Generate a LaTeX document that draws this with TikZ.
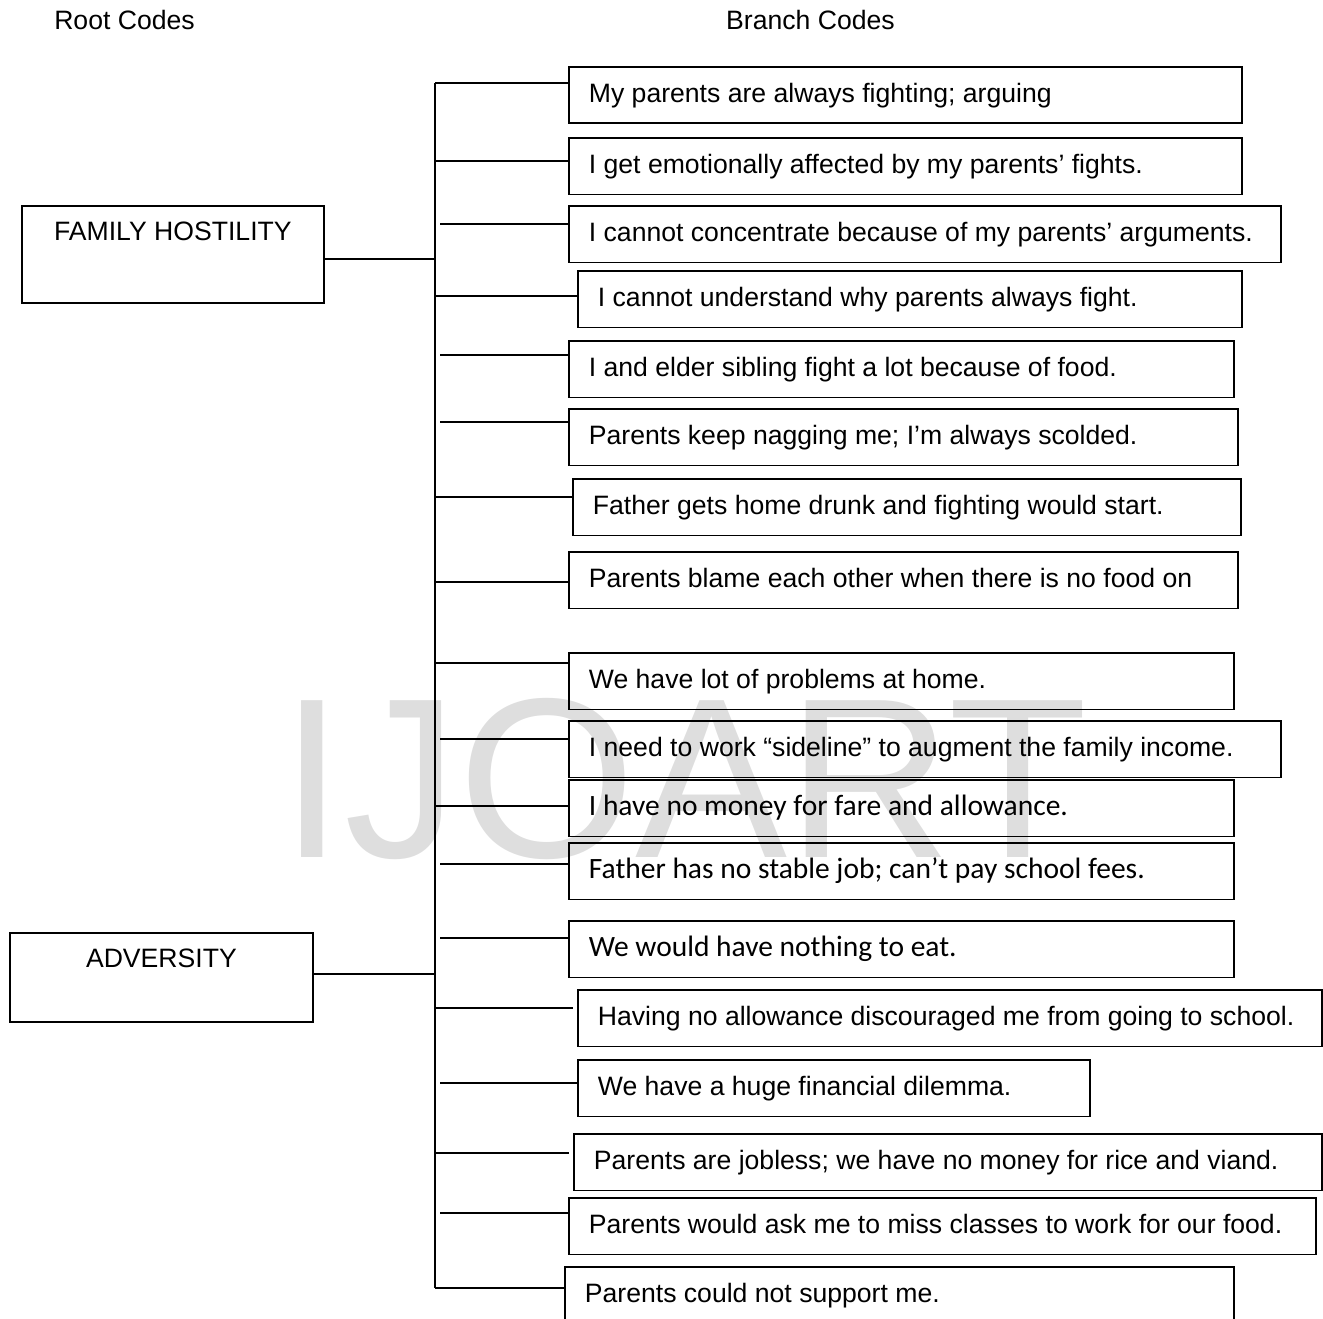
\documentclass[tikz,border=0pt]{standalone}
\usepackage{fontspec}
\setmainfont{Liberation Sans}
\newfontfamily\calibrifont{Carlito}
\newcommand\calsize{\fontsize{29.5pt}{32pt}\selectfont\calibrifont}
\begin{document}
\begin{tikzpicture}[x=1pt,y=-1pt,
  line width=1.8pt,
  txt/.style={font=\fontsize{26.6pt}{30pt}\selectfont},
  rootbox/.style={draw, txt, inner sep=0pt, anchor=north west, text height=35pt},
  bbox/.style={draw, txt, anchor=north west, inner xsep=20pt, inner ysep=0pt, text height=36pt, text depth=20.5pt},
  conn/.style={line width=1.8pt}
]
\useasboundingbox (0,0) rectangle (1323,1319);
\clip (0,0) rectangle (1323,1319);
% watermark
\node[anchor=base west, inner sep=0pt, font=\fontsize{228pt}{228pt}\selectfont, text=black!13] (wm) at (280,857) {IJOART};
% headers
\node[txt, anchor=base, inner sep=0pt] (hroot) at (124.5,30) {Root Codes};
\node[txt, anchor=base, inner sep=0pt] (hbranch) at (810.5,30) {Branch Codes};
% root boxes
\node[rootbox, minimum width=302pt, text depth=62pt] (fh) at (21,205) {FAMILY HOSTILITY};
\node[rootbox, minimum width=303pt, text depth=54pt] (adv) at (9,932) {ADVERSITY};
% branch boxes
\node[bbox] (b1) at (568,66) {\makebox[633pt][l]{My parents are always fighting; arguing}};
\node[bbox] (b2) at (568,137) {\makebox[633pt][l]{I get emotionally affected by my parents’ fights.}};
\node[bbox] (b3) at (568,205) {\makebox[672pt][l]{I cannot concentrate because of my parents’ arguments.}};
\node[bbox] (b4) at (577,270) {\makebox[624pt][l]{I cannot understand why parents always fight.}};
\node[bbox] (b5) at (568,340) {\makebox[625pt][l]{I and elder sibling fight a lot because of food.}};
\node[bbox] (b6) at (568,408) {\makebox[629pt][l]{Parents keep nagging me; I’m always scolded.}};
\node[bbox] (b7) at (572,478) {\makebox[628pt][l]{Father gets home drunk and fighting would start.}};
\node[bbox] (b8) at (568,551) {\makebox[629pt][l]{Parents blame each other when there is no food on}};
\node[bbox] (b9) at (568,652) {\makebox[625pt][l]{We have lot of problems at home.}};
\node[bbox] (b10) at (568,720) {\makebox[672pt][l]{I need to work “sideline” to augment the family income.}};
\node[bbox] (b11) at (568,779) {\makebox[625pt][l]{\calsize I have no money for fare and allowance.}};
\node[bbox] (b12) at (568,842) {\makebox[625pt][l]{\calsize Father has no stable job; can’t pay school fees.}};
\node[bbox] (b13) at (568,920) {\makebox[625pt][l]{\calsize We would have nothing to eat.}};
\node[bbox] (b14) at (577,989) {\makebox[704pt][l]{Having no allowance discouraged me from going to school.}};
\node[bbox] (b15) at (577,1059) {\makebox[472pt][l]{We have a huge financial dilemma.}};
\node[bbox] (b16) at (573,1133) {\makebox[708pt][l]{Parents are jobless; we have no money for rice and viand.}};
\node[bbox] (b17) at (568,1197) {\makebox[707pt][l]{Parents would ask me to miss classes to work for our food.}};
\node[bbox, text depth=54pt] (b18) at (564,1266) {\makebox[629pt][l]{Parents could not support me.}};
% trunk
\coordinate (tt) at (435,83);
\coordinate (tb) at (435,1288);
\draw[conn] (tt) -- (tb);
% root connectors
\coordinate (jfh) at (435,259);
\coordinate (jadv) at (435,974);
\draw[conn] (jfh -| fh.east) -- (jfh);
\draw[conn] (jadv -| adv.east) -- (jadv);
% branch connectors
\coordinate (c1) at (435,83);
\coordinate (c2) at (435,161);
\coordinate (c3) at (440,224);
\coordinate (c4) at (435,296);
\coordinate (c5) at (440,355);
\coordinate (c6) at (440,422);
\coordinate (c7) at (435,497);
\coordinate (c8) at (435,582);
\coordinate (c9) at (435,663);
\coordinate (c10) at (440,739);
\coordinate (c11) at (435,806);
\coordinate (c12) at (440,864);
\coordinate (c13) at (440,938);
\coordinate (c14) at (435,1008);
\coordinate (c15) at (440,1083);
\coordinate (c16) at (435,1153);
\coordinate (c17) at (440,1213);
\coordinate (c18) at (435,1288);
\foreach \i in {1,...,13,15,17,18}{
  \draw[conn] (c\i) -- (c\i -| b\i.west);
}
\draw[conn, shorten >=4pt] (c14) -- (c14 -| b14.west);
\draw[conn, shorten >=4pt] (c16) -- (c16 -| b16.west);
\end{tikzpicture}
\end{document}
